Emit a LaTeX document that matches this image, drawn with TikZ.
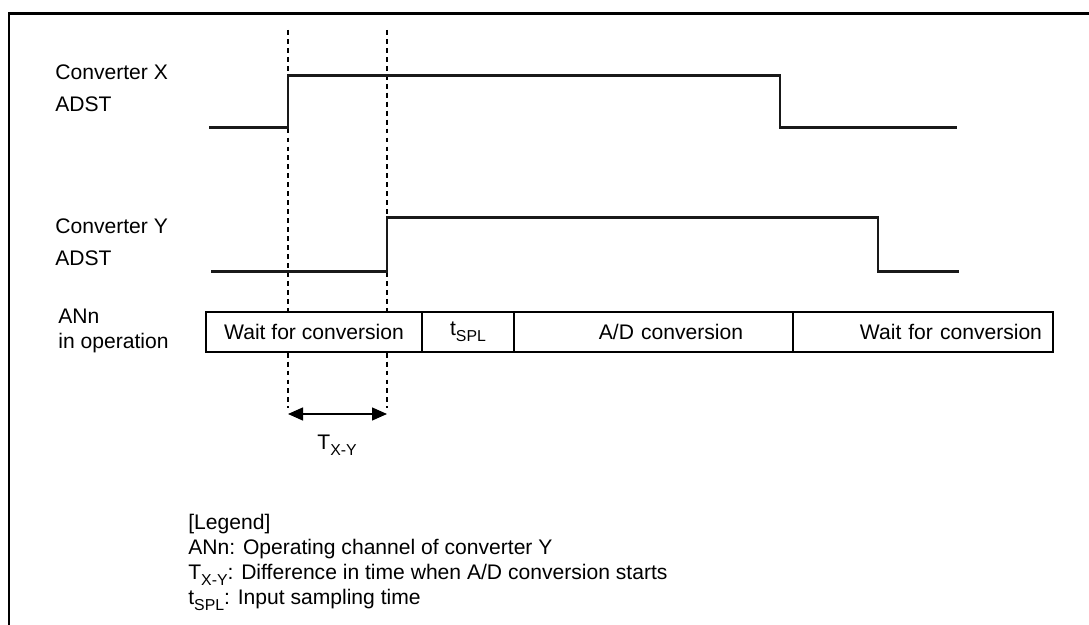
\documentclass[tikz,border=0pt]{standalone}
\usepackage{fontspec}
\setmainfont{Liberation Sans}
\usetikzlibrary{arrows.meta,positioning}
\newcommand{\subtxt}[1]{\raisebox{-0.5ex}{\fontsize{9}{9}\selectfont #1}}

\begin{document}
\begin{tikzpicture}[
  sig/.style={line width=1.7pt, black!90},
  guide/.style={line width=0.6pt, dash pattern=on 2.8pt off 2.3pt},
  seg/.style={draw, fill=white, line width=1.2pt, minimum height=0.8cm, outer sep=0pt,
              inner ysep=0pt, font=\fontsize{12}{14.4}\selectfont},
  lbl/.style={align=left, anchor=west, inner sep=0pt}
]
  \useasboundingbox (0,0) rectangle (21.78,12.5);
  \draw[line width=1.7pt] (0.18,0) -- (0.18,12.22) -- (21.78,12.22);

  \node[lbl, font=\fontsize{12}{18.2}\selectfont] (xname) at (1.1,10.73) {Converter X\\ADST};
  \node[lbl, font=\fontsize{12}{18.2}\selectfont] (yname) at (1.1,7.66) {Converter Y\\ADST};
  \node[lbl, font=\fontsize{12}{14.2}\selectfont] (anname) at (1.16,5.88) {ANn\\in operation};

  \coordinate (xtop) at (5.76,11.9);
  \coordinate (ytop) at (7.74,11.9);
  \coordinate (xbot) at (5.76,4.34);
  \coordinate (ybot) at (7.74,4.34);
  \draw[guide] (xtop) -- (xbot);
  \draw[guide] (ytop) -- (ybot);

  \draw[sig] (4.18,9.94) -- (5.76,9.94) -- (5.76,10.98) -- (15.6,10.98)
             -- (15.6,9.94) -- (19.14,9.94);
  \draw[sig] (4.22,7.06) -- (7.74,7.06) -- (7.74,8.14) -- (17.56,8.14)
             -- (17.56,7.06) -- (19.18,7.06);

  \node[seg, minimum width=4.32cm, anchor=west] (wait1) at (4.12,5.86) {Wait for conversion};
  \node[seg, minimum width=1.84cm, right=0cm of wait1] (spl) {t\subtxt{SPL}};
  \node[seg, text width=3.58cm, inner xsep=1cm, align=right, right=0cm of spl]
        (conv) {A/D conversion};
  \node[seg, text width=4.76cm, inner xsep=0.22cm, align=right, right=0cm of conv]
        (wait2) {Wait for conversion};

  \coordinate (xarr) at (5.76,4.22);
  \coordinate (yarr) at (7.74,4.22);
  \draw[line width=0.8pt, {Triangle[length=0.3cm,width=0.26cm]}-{Triangle[length=0.3cm,width=0.26cm]}]
       (xarr) -- (yarr);
  \node[font=\fontsize{12}{14.4}\selectfont] (txy) at (6.74,3.6) {T\subtxt{X-Y}};

  \node[lbl, font=\fontsize{12}{14.2}\selectfont] (legend) at (3.76,1.25)
       {[Legend]\\ANn: Operating channel of converter Y\\
        T\subtxt{X-Y}: Difference in time when A/D conversion starts\\
        t\subtxt{SPL}: Input sampling time};
\end{tikzpicture}
\end{document}
